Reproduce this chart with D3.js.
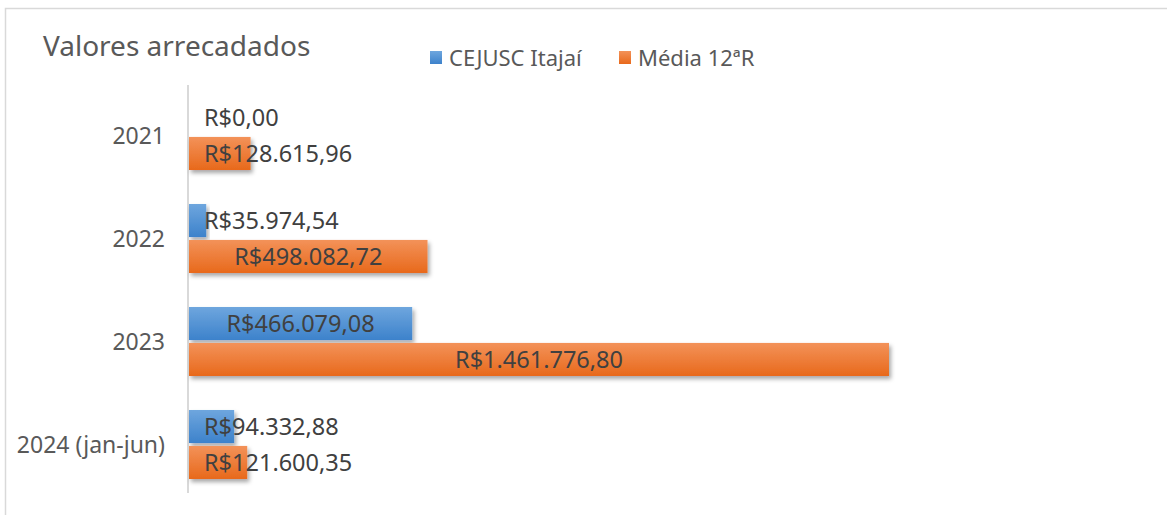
<!DOCTYPE html>
<html><head><meta charset="utf-8">
<script src="https://cdn.jsdelivr.net/npm/d3@7"></script>
<style>body{margin:0;background:#fff;} svg{display:block;}</style>
</head><body>
<svg id="c" width="1167" height="515"></svg>
<script>
const categories = ["2021", "2022", "2023", "2024 (jan-jun)"];
const seriesNames = ["CEJUSC Itajaí", "Média 12ªR"];
const cejusc = [0.00, 35974.54, 466079.08, 94332.88];
const media = [128615.96, 498082.72, 1461776.80, 121600.35];
const labelsCejusc = ["R$0,00", "R$35.974,54", "R$466.079,08", "R$94.332,88"];
const labelsMedia = ["R$128.615,96", "R$498.082,72", "R$1.461.776,80", "R$121.600,35"];

const FONT = "'Noto Sans', sans-serif";
const svg = d3.select("#c");
const defs = svg.append("defs");
function grad(id, top, bot){
  const g = defs.append("linearGradient").attr("id", id).attr("x1",0).attr("y1",0).attr("x2",0).attr("y2",1);
  g.append("stop").attr("offset","0%").attr("stop-color", top);
  g.append("stop").attr("offset","100%").attr("stop-color", bot);
}
grad("gBlue", "#6ea6de", "#3d82cb");
grad("gOrange", "#f39259", "#e8691b");
const f = defs.append("filter").attr("id","sh").attr("x","-10%").attr("y","-20%").attr("width","130%").attr("height","160%");
f.append("feDropShadow").attr("dx",2).attr("dy",3).attr("stdDeviation",2.2).attr("flood-color","#000").attr("flood-opacity",0.35);

// chart frame
svg.append("rect").attr("x",5.5).attr("y",8.5).attr("width",1300).attr("height",700)
  .attr("fill","#fff").attr("stroke","#d9d9d9").attr("stroke-width",1.5);

const x0 = 189;
const x = d3.scaleLinear().domain([0, 1461776.80]).range([x0, 889]);
const y = d3.scaleBand().domain(categories).range([84, 496]).paddingInner(0.33).paddingOuter(0.165);
const sub = d3.scaleBand().domain(seriesNames).range([0, y.bandwidth()]).paddingInner(0.08);

// axis line
svg.append("line").attr("x1",x0-1).attr("x2",x0-1).attr("y1",85).attr("y2",493)
  .attr("stroke","#d9d9d9").attr("stroke-width",2);

// category labels
svg.append("g").selectAll("text").data(categories).join("text")
  .attr("x",165).attr("y", d => y(d) + y.bandwidth()/2).attr("dy","0.35em")
  .attr("text-anchor","end").attr("font-family",FONT).attr("font-size",23).attr("fill","#595959")
  .text(d => d);

const series = [
  {name: seriesNames[0], values: cejusc, labels: labelsCejusc, fill: "url(#gBlue)"},
  {name: seriesNames[1], values: media, labels: labelsMedia, fill: "url(#gOrange)"}
];

series.forEach(s => {
  const g = svg.append("g");
  g.selectAll("rect").data(categories).join("rect")
    .attr("x", x0).attr("y", d => y(d) + sub(s.name))
    .attr("width", (d,i) => x(s.values[i]) - x0).attr("height", sub.bandwidth())
    .attr("fill", s.fill).attr("filter", (d,i) => s.values[i] > 0 ? "url(#sh)" : null);
});
series.forEach(s => {
  const g = svg.append("g");
  g.selectAll("text").data(categories).join("text")
    .attr("y", d => y(d) + sub(s.name) + sub.bandwidth()/2).attr("dy","0.35em")
    .attr("text-anchor","middle").attr("font-family",FONT).attr("font-size",23.5).attr("fill","#404040")
    .text((d,i) => s.labels[i])
    .each(function(d,i){
      const w = this.getComputedTextLength();
      const c = (x0 + x(s.values[i]))/2;
      d3.select(this).attr("x", Math.max(c, 204 + w/2));
    });
});

// title
svg.append("text").attr("x",43).attr("y",56).attr("font-family",FONT).attr("font-size",28)
  .attr("fill","#595959").text("Valores arrecadados");

// legend
const leg = [{n: seriesNames[0], c: "url(#gBlue)", x: 430}, {n: seriesNames[1], c: "url(#gOrange)", x: 619}];
leg.forEach(l => {
  svg.append("rect").attr("x", l.x).attr("y", 51).attr("width", 12).attr("height", 13).attr("fill", l.c);
  svg.append("text").attr("x", l.x + 19).attr("y", 58).attr("dy","0.35em")
    .attr("font-family",FONT).attr("font-size",22).attr("fill","#595959").text(l.n);
});
</script>
</body></html>
